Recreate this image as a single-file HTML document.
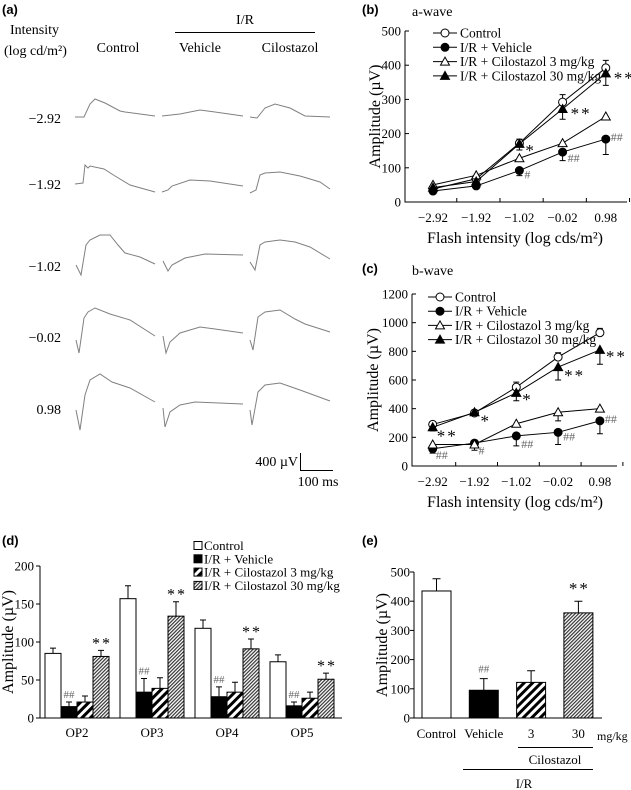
<!DOCTYPE html>
<html><head><meta charset="utf-8"><style>
body{margin:0;background:#fff;}
svg{display:block;font-family:"Liberation Serif",serif;}
.b{font-family:"Liberation Sans",sans-serif;font-weight:bold;}
</style></head><body>
<svg id="fig" width="631" height="790" viewBox="0 0 631 790" xmlns="http://www.w3.org/2000/svg">
<defs>
<pattern id="hatchWide" patternUnits="userSpaceOnUse" width="6" height="6" patternTransform="rotate(45)">
<rect width="6" height="6" fill="#fff"/><rect width="3" height="6" fill="#000"/></pattern>
<pattern id="hatchFine" patternUnits="userSpaceOnUse" width="2.5" height="2.5" patternTransform="rotate(45)">
<rect width="2.5" height="2.5" fill="#fff"/><rect width="1.2" height="2.5" fill="#333"/></pattern>
</defs>

<!-- Panel a -->
<g font-size="14">
<text class="b" x="2" y="14" font-size="13">(a)</text>
<text x="10" y="34">Intensity</text>
<text x="4" y="55">(log cd/m²)</text>
<text x="245" y="24" text-anchor="middle">I/R</text>
<line x1="175" y1="32.5" x2="315" y2="32.5" stroke="#000" stroke-width="1"/>
<text x="118" y="52" text-anchor="middle">Control</text>
<text x="200" y="52" text-anchor="middle">Vehicle</text>
<text x="290" y="52" text-anchor="middle">Cilostazol</text>
<text x="61" y="123" text-anchor="end">−2.92</text>
<text x="61" y="189" text-anchor="end">−1.92</text>
<text x="61" y="271" text-anchor="end">−1.02</text>
<text x="61" y="342" text-anchor="end">−0.02</text>
<text x="61" y="414" text-anchor="end">0.98</text>
<g fill="none" stroke="#808080" stroke-width="1">
<path d="M75,117 L84,117 L90,104 L95,99 L105,103 L120,111 L125,112 L155,116"/>
<path d="M162,116 L180,114 L200,110 L215,112 L243,116"/>
<path d="M250,117 L257,118 L265,108 L275,104 L290,108 L305,116 L330,117"/>
<path d="M75,184 L83,183 L85,165 L88,168 L90,166 L104,169 L115,176 L130,185 L155,192"/>
<path d="M162,192 L168,190 L172,186 L190,180 L210,181 L243,186"/>
<path d="M250,193 L256,190 L260,175 L265,173 L280,172 L300,176 L320,182 L330,189"/>
<path d="M76,265 L81,275 L86,245 L90,240 L100,235 L110,235 L118,245 L125,253 L140,257 L155,264"/>
<path d="M163,261 L168,271 L172,265 L185,258 L205,254 L243,255"/>
<path d="M250,262 L255,270 L260,245 L265,242 L280,240 L295,242 L310,247 L330,259"/>
<path d="M76,340 L79,353 L84,318 L88,312 L95,308 L110,314 L130,320 L155,336"/>
<path d="M163,336 L166,353 L170,342 L180,333 L200,327 L215,329 L243,333"/>
<path d="M250,340 L253,350 L258,317 L265,312 L280,310 L295,319 L305,324 L330,332"/>
<path d="M76,410 L80,430 L85,395 L90,380 L100,374 L112,382 L130,388 L155,402"/>
<path d="M163,408 L165,427 L170,412 L180,405 L195,402 L243,404"/>
<path d="M250,410 L252,425 L258,392 L265,385 L280,383 L300,390 L330,401"/>
</g>
<path d="M300.5,453 V470.5 H333" fill="none" stroke="#000" stroke-width="1"/>
<text x="298" y="466" text-anchor="end">400 µV</text>
<text x="318" y="486" text-anchor="middle">100 ms</text>
</g>

<g id="pb"></g>
<g id="pc"></g>
<g id="pd"></g>
<g id="pe"></g>
</svg>
<script>
// ---- Panel b data (a-wave) ----
const intensities = ["−2.92","−1.92","−1.02","−0.02","0.98"];
const aControl = [38,68,172,292,392];
const aVehicle = [32,47,92,146,184];
const aCil3 = [50,78,128,172,250];
const aCil30 = [42,60,170,272,376];
const aControlErr = [5,5,12,22,22];
const aVehicleErr = [5,5,15,25,45];
const aCil3Err = [5,5,8,8,10];
const aCil30Err = [5,5,18,30,35];
const aTicks = [0,100,200,300,400,500];
// ---- Panel c data (b-wave) ----
const bControl = [290,370,550,760,930];
const bVehicle = [120,160,210,235,315];
const bCil3 = [150,150,295,375,400];
const bCil30 = [270,375,510,690,810];
const bControlErr = [15,20,35,30,30];
const bVehicleErr = [30,25,70,85,90];
const bCil3Err = [20,40,10,60,10];
const bCil30Err = [25,15,55,90,100];
const bTicks = [0,200,400,600,800,1000,1200];
// ---- Panel d data (OPs) ----
const opNames = ["OP2","OP3","OP4","OP5"];
const opControl = [85,157,118,74];
const opVehicle = [15,34,28,16];
const opCil3 = [21,39,34,26];
const opCil30 = [81,134,91,51];
const opControlErr = [7,17,11,9];
const opVehicleErr = [6,18,13,5];
const opCil3Err = [8,14,13,8];
const opCil30Err = [8,19,13,8];
const opTicks = [0,50,100,150,200];
// ---- Panel e data (sum OPs) ----
const eGroups = ["Control","Vehicle","3","30"];
const eValues = [435,95,122,360];
const eErr = [42,40,40,40];
const eTicks = [0,100,200,300,400,500];

const NS="http://www.w3.org/2000/svg";
function mk(parent,tag,attrs,text){const e=document.createElementNS(NS,tag);for(const k in attrs)e.setAttribute(k,attrs[k]);if(text!==undefined)e.textContent=text;parent.appendChild(e);return e;}

function marker(g,type,x,y){
  let e;
  if(type==="oc"||type==="fc"){e=mk(g,"circle",{cx:x,cy:y,r:4,fill:type==="fc"?"#000":"#fff",stroke:"#000","stroke-width":1});}
  else{e=mk(g,"polygon",{points:`${x},${y-4.5} ${x+4.5},${y+3.5} ${x-4.5},${y+3.5}`,fill:type==="ft"?"#000":"#fff",stroke:"#000","stroke-width":1});}
  return e;
}

function lineChart(gid,cfg){
  const g=document.getElementById(gid);
  const X=i=>cfg.x0+i*cfg.dx;
  const Y=v=>cfg.yb-(v/cfg.ymax)*(cfg.yb-cfg.yt);
  const ax=mk(g,"path",{d:`M${cfg.ax},${cfg.yt} V${cfg.yb} H${cfg.axEnd}`,fill:"none",stroke:"#000","stroke-width":1});
  
  
  cfg.ticks.forEach(t=>{
    const tk=mk(g,"line",{x1:cfg.ax,x2:cfg.ax+4,y1:Y(t),y2:Y(t),stroke:"#000"});
    
    
    const tl=mk(g,"text",{x:cfg.ax-4,y:Y(t)+4.5,"text-anchor":"end","font-size":13},t);
    
    
  });
  for(let i=1;i<=5;i++){
    const bx=X(i)-cfg.dx/2+cfg.dx*0.05;
    const tk=mk(g,"line",{x1:bx,x2:bx,y1:cfg.yb,y2:cfg.yb-4,stroke:"#000"});
    
    
  }
  intensities.forEach((s,i)=>{
    const tl=mk(g,"text",{x:X(i),y:cfg.yb+20,"text-anchor":"middle","font-size":13},s);
    
    
  });
  cfg.series.forEach(sr=>{
    const sg=mk(g,"g",{});
    
    
    const pl=mk(sg,"polyline",{points:sr.vals.map((v,i)=>X(i)+","+Y(v)).join(" "),fill:"none",stroke:"#000","stroke-width":1});
    
    
    sr.vals.forEach((v,i)=>{
      const e=sr.up?v+sr.err[i]:v-sr.err[i];
      const eb=mk(sg,"path",{d:`M${X(i)},${Y(v)} V${Y(e)} M${X(i)-3},${Y(e)} H${X(i)+3}`,stroke:"#000",fill:"none"});
      
      
    });
    sr.vals.forEach((v,i)=>{
      const m=marker(sg,sr.m,X(i),Y(v));
      
      
    });
  });
  cfg.ann.forEach(a=>{
    const t=mk(g,"text",{x:X(a[0])+a[3],y:Y(a[1])+a[4],"font-size":a[2][0]==="#"?12:17,fill:a[2][0]==="#"?"#666":"#000","letter-spacing":a[2][0]==="#"?0:2},a[2]);
    
    
  });
  const names=["Control","I/R + Vehicle","I/R + Cilostazol  3 mg/kg","I/R + Cilostazol  30 mg/kg"];
  const ms=["oc","fc","ot","ft"];
  names.forEach((n,i)=>{
    const ly=cfg.legY+i*cfg.legDy;
    const le=mk(g,"g",{});
    
    
    mk(le,"line",{x1:cfg.legX,x2:cfg.legX+24,y1:ly,y2:ly,stroke:"#000"});
    marker(le,ms[i],cfg.legX+12,ly);
    mk(le,"text",{x:cfg.legX+27,y:ly+4.5,"font-size":13.5},n);
  });
  const p=mk(g,"text",{x:362,y:cfg.titleY,class:"b","font-size":13},cfg.label);
  
  
  const tt=mk(g,"text",{x:412,y:cfg.titleY+2,"font-size":14},cfg.title);
  
  
  const yt=mk(g,"text",{x:0,y:0,"font-size":16,"text-anchor":"middle",transform:`translate(${cfg.ytX},${(cfg.yt+cfg.yb)/2}) rotate(-90)`},"Amplitude (µV)");
  
  
  const xt=mk(g,"text",{x:cfg.xtX,y:cfg.yb+41,"font-size":16,"text-anchor":"middle"},"Flash intensity (log cds/m²)");
  
  
}

lineChart("pb",{x0:433,dx:43.2,ax:405,axEnd:627,yt:31,yb:202,ymax:500,ticks:aTicks,
  legX:433,legY:33,legDy:14.3,label:"(b)",title:"a-wave",titleY:14,ytX:380,xtX:515,
  series:[{name:"control",vals:aControl,err:aControlErr,up:true,m:"oc"},
          {name:"vehicle",vals:aVehicle,err:aVehicleErr,up:false,m:"fc"},
          {name:"cilostazol-3",vals:aCil3,err:aCil3Err,up:false,m:"ot"},
          {name:"cilostazol-30",vals:aCil30,err:aCil30Err,up:false,m:"ft"}],
  ann:[[2,170,"*",6,12],[3,272,"**",8,10],[4,376,"**",8,10],[2,92,"#",5,8],[3,146,"##",5,10],[4,184,"##",5,2]]});

lineChart("pc",{x0:432.7,dx:41.8,ax:412,axEnd:617,yt:294,yb:466,ymax:1200,ticks:bTicks,
  legX:428,legY:297,legDy:14.2,label:"(c)",title:"b-wave",titleY:273,ytX:378,xtX:515,
  series:[{name:"control",vals:bControl,err:bControlErr,up:true,m:"oc"},
          {name:"vehicle",vals:bVehicle,err:bVehicleErr,up:false,m:"fc"},
          {name:"cilostazol-3",vals:bCil3,err:bCil3Err,up:false,m:"ot"},
          {name:"cilostazol-30",vals:bCil30,err:bCil30Err,up:false,m:"ft"}],
  ann:[[0,270,"**",4,14],[1,360,"*",6,12],[2,510,"*",6,12],[3,690,"**",6,14],[4,810,"**",6,12],[0,120,"##",3,10],[1,150,"#",4,10],[2,210,"##",5,12],[3,235,"##",5,8],[4,315,"##",5,2]]});

(function(){
  const g=document.getElementById("pd");
  const ax=40,yb=718,yt=566,ymax=200,axEnd=342;
  const Y=v=>yb-(v/ymax)*(yb-yt);
  const bw=16,g0=45,gs=75;
  const a=mk(g,"path",{d:`M${ax},${yt} V${yb} H${axEnd}`,fill:"none",stroke:"#000"});
  
  
  opTicks.forEach(t=>{
    const tk=mk(g,"line",{x1:ax-4,x2:ax,y1:Y(t),y2:Y(t),stroke:"#000"});
    
    
    const tl=mk(g,"text",{x:ax-6,y:Y(t)+4.5,"text-anchor":"end","font-size":13},t);
    
    
  });
  const series=[[opControl,opControlErr,"#fff","control"],[opVehicle,opVehicleErr,"#000","vehicle"],[opCil3,opCil3Err,"url(#hatchWide)","cilostazol-3"],[opCil30,opCil30Err,"url(#hatchFine)","cilostazol-30"]];
  opNames.forEach((n,gi)=>{
    series.forEach((s,si)=>{
      const x=g0+gi*gs+si*bw, v=s[0][gi], e=s[1][gi];
      const eb=mk(g,"path",{d:`M${x+bw/2},${Y(v)} V${Y(v+e)} M${x+bw/2-3},${Y(v+e)} H${x+bw/2+3}`,stroke:"#000",fill:"none"});
      
      
      const r=mk(g,"rect",{x:x,y:Y(v),width:bw,height:yb-Y(v),fill:s[2],stroke:"#000","stroke-width":1});
      
      
      if(si===1){const t=mk(g,"text",{x:x+bw/2,y:Y(v+e)-4,"text-anchor":"middle","font-size":11,fill:"#666"},"##");
        
        }
      if(si===3){const t=mk(g,"text",{x:x+bw/2+1,y:Y(v+e)-2,"text-anchor":"middle","font-size":16,"letter-spacing":2},"**");
        
        }
    });
    const tl=mk(g,"text",{x:g0+gi*gs+2*bw,y:737,"text-anchor":"middle","font-size":13},n);
    
    
  });
  const names=["Control","I/R + Vehicle","I/R + Cilostazol 3 mg/kg","I/R + Cilostazol 30 mg/kg"];
  names.forEach((n,i)=>{
    const ly=546+i*13.3;
    const le=mk(g,"g",{});
    
    
    mk(le,"rect",{x:194,y:ly-4.5,width:8,height:8,fill:series[i][2],stroke:"#000"});
    mk(le,"text",{x:204,y:ly+4,"font-size":13},n);
  });
  const p=mk(g,"text",{x:2,y:545,class:"b","font-size":13},"(d)");
  
  
  const yt2=mk(g,"text",{x:0,y:0,"font-size":16,"text-anchor":"middle",transform:`translate(13,${(yt+yb)/2}) rotate(-90)`},"Amplitude (µV)");
  
  
})();

(function(){
  const g=document.getElementById("pe");
  const ax=414,yb=718,yt=572,ymax=500,axEnd=602;
  const Y=v=>yb-(v/ymax)*(yb-yt);
  const bx0=422,bs=47.3,bw=29;
  const fills=["#fff","#000","url(#hatchWide)","url(#hatchFine)"];
  const a=mk(g,"path",{d:`M${ax},${yt} V${yb} H${axEnd}`,fill:"none",stroke:"#000"});
  
  
  eTicks.forEach(t=>{
    const tk=mk(g,"line",{x1:ax-4,x2:ax,y1:Y(t),y2:Y(t),stroke:"#000"});
    
    
    const tl=mk(g,"text",{x:ax-4,y:Y(t)+4.5,"text-anchor":"end","font-size":13},t);
    
    
  });
  eGroups.forEach((n,i)=>{
    const x=bx0+i*bs,v=eValues[i],e=eErr[i];
    const eb=mk(g,"path",{d:`M${x+bw/2},${Y(v)} V${Y(v+e)} M${x+bw/2-4},${Y(v+e)} H${x+bw/2+4}`,stroke:"#000",fill:"none"});
    
    
    const r=mk(g,"rect",{x:x,y:Y(v),width:bw,height:yb-Y(v),fill:fills[i],stroke:"#000"});
    
    
    const tl=mk(g,"text",{x:x+bw/2,y:738,"text-anchor":"middle","font-size":13},n);
    
    
    if(i===1){const t=mk(g,"text",{x:x+bw/2,y:Y(v+e)-6,"text-anchor":"middle","font-size":11,fill:"#666"},"##");
      
      }
    if(i===3){const t=mk(g,"text",{x:x+bw/2+1,y:Y(v+e)-7,"text-anchor":"middle","font-size":17,"letter-spacing":2},"**");
      
      }
  });
  const u=mk(g,"text",{x:597,y:740,"font-size":12},"mg/kg");
  
  
  const l1=mk(g,"line",{x1:518,x2:593,y1:747.5,y2:747.5,stroke:"#000"});
  
  
  const c=mk(g,"text",{x:555,y:764,"text-anchor":"middle","font-size":13},"Cilostazol");
  
  
  const l2=mk(g,"line",{x1:463,x2:593,y1:769.5,y2:769.5,stroke:"#000"});
  
  
  const ir=mk(g,"text",{x:524,y:788,"text-anchor":"middle","font-size":13},"I/R");
  
  
  const p=mk(g,"text",{x:362,y:545,class:"b","font-size":13},"(e)");
  
  
  const yt2=mk(g,"text",{x:0,y:0,"font-size":16,"text-anchor":"middle",transform:`translate(387,${(yt+yb)/2}) rotate(-90)`},"Amplitude (µV)");
  
  
})();
</script>
</body></html>
